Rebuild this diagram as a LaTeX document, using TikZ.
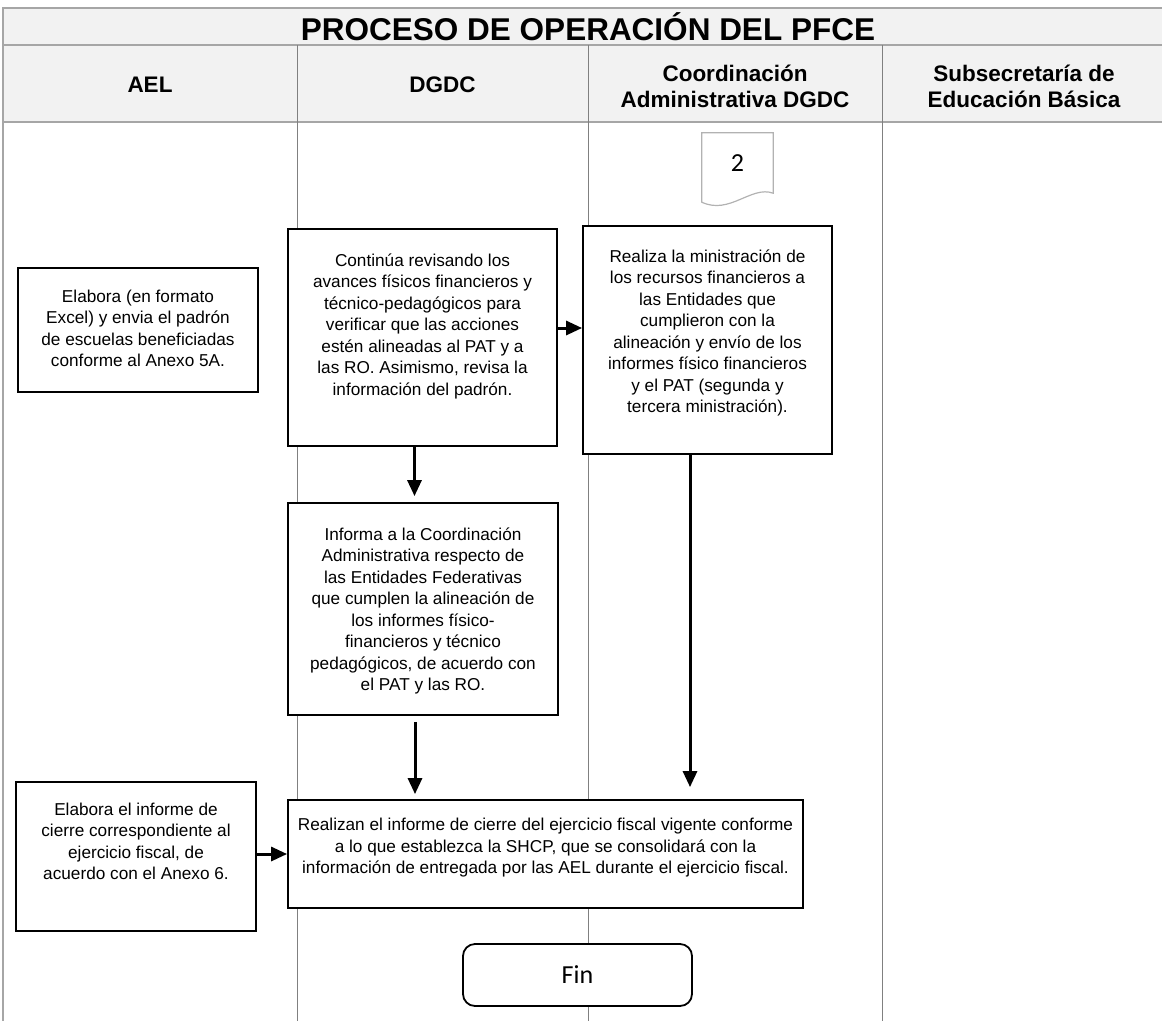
\documentclass[tikz,border=0pt]{standalone}
\usepackage{fontspec}
\setmainfont{Liberation Sans}
\newfontfamily\calibri{Carlito}
\usetikzlibrary{arrows.meta,positioning,calc}

\begin{document}
\begin{tikzpicture}[x=1pt, y=-1pt,
	lane/.style={draw=gray, line width=1pt},
	band/.style={draw=gray!70, line width=1.6pt},
	lanehead/.style={font=\bfseries\fontsize{22.5}{26}\selectfont, align=center},
	proc/.style={draw=black, fill=white, line width=1.8pt, rectangle, align=center, inner sep=0pt, font=\fontsize{17.2}{21.5}\selectfont},
	flow/.style={-{Triangle[length=16pt,width=14pt]}, line width=3pt}]
	\useasboundingbox (0,0) rectangle (1162,1021);

	% header bands and lanes
	\fill[gray!10] (3,8) rectangle (1162,122);
	\draw[band] (1162,8) -- (3,8) -- (3,1021);
	\draw[band] (3,45) -- (1162,45);
	\draw[band] (3,122) -- (1162,122);
	\foreach \x in {297,588,882}
		\draw[lane] (\x,45) -- (\x,1021);

	\node[font=\bfseries\fontsize{31.5}{36}\selectfont] (title) at (588,27) {PROCESO DE OPERACIÓN DEL PFCE};

	\node[lanehead] (ael) at (150,85) {AEL};
	\node[lanehead] (dgdc) at (442.5,85) {DGDC};
	\node[lanehead] (coord) at (735,86) {Coordinación\\Administrativa DGDC};
	\node[lanehead] (seb) at (1024,86) {Subsecretaría de\\Educación Básica};

	% off-page connector
	\node[minimum width=71pt, minimum height=60pt, font=\calibri\fontsize{26}{28}\selectfont] (con2) at (737.5,163) {2};
	\draw[gray!60, line width=1.2pt] (con2.south west) -- (con2.north west) -- (con2.north east) -- (con2.south east)
		.. controls ($(con2.south east)+(-22,-8)$) and ($(con2.south west)+(28,22)$) .. ($(con2.south west)+(0,9)$) -- (con2.south west);

	% process boxes
	\node[proc, minimum width=240pt, minimum height=124pt, text depth=3pt] (padron) at (138,330) {Elabora (en formato\\Excel) y envia el padrón\\de escuelas beneficiadas\\conforme al Anexo 5A.};
	\node[proc, minimum width=269pt, minimum height=217pt, text depth=26pt] (revisa) at (422.5,337.5) {Continúa revisando los\\avances físicos financieros y\\técnico-pedagógicos para\\verificar que las acciones\\estén alineadas al PAT y a\\las RO. Asimismo, revisa la\\información del padrón.};
	\node[proc, minimum width=249pt, minimum height=228pt, text depth=18pt] (minis) at (707.5,340) {Realiza la ministración de\\los recursos financieros a\\las Entidades que\\cumplieron con la\\alineación y envío de los\\informes físico financieros\\y el PAT (segunda y\\tercera ministración).};
	\node[proc, minimum width=270pt, minimum height=212pt, text depth=0pt] (informa) at (423,609) {Informa a la Coordinación\\Administrativa respecto de\\las Entidades Federativas\\que cumplen la alineación de\\los informes físico-\\financieros y técnico\\pedagógicos, de acuerdo con\\el PAT y las RO.};
	\node[proc, minimum width=240pt, minimum height=149pt, text depth=30pt] (anexo) at (136,856.5) {Elabora el informe de\\cierre correspondiente al\\ejercicio fiscal, de\\acuerdo con el Anexo 6.};
	\node[proc, minimum width=515pt, minimum height=108pt, text depth=16pt] (cierre) at (545.5,854) {Realizan el informe de cierre del ejercicio fiscal vigente conforme\\a lo que establezca la SHCP, que se consolidará con la\\información de entregada por las AEL durante el ejercicio fiscal.};
	\node[draw, fill=white, line width=1.8pt, rounded corners=12pt, minimum width=229pt, minimum height=62pt, font=\calibri\fontsize{26}{28}\selectfont] (fin) at (577.5,975) {Fin};

	% connectors
	\draw[flow] ([yshift=9.5pt]revisa.east) -- ([yshift=9.5pt]revisa.east -| minis.west);
	\draw[flow, shorten >=6pt] ([xshift=-8pt]revisa.south) -- ([xshift=-8pt]revisa.south |- informa.north);
	\draw[flow, shorten <=6pt, shorten >=5pt] ([xshift=-8pt]informa.south) -- ([xshift=-8pt]informa.south |- cierre.north);
	\draw[flow, shorten >=12pt] ([xshift=-17.5pt]minis.south) -- ([xshift=-17.5pt]minis.south |- cierre.north);
	\draw[flow] (cierre.west -| anexo.east) -- (cierre.west);

\end{tikzpicture}
\end{document}
